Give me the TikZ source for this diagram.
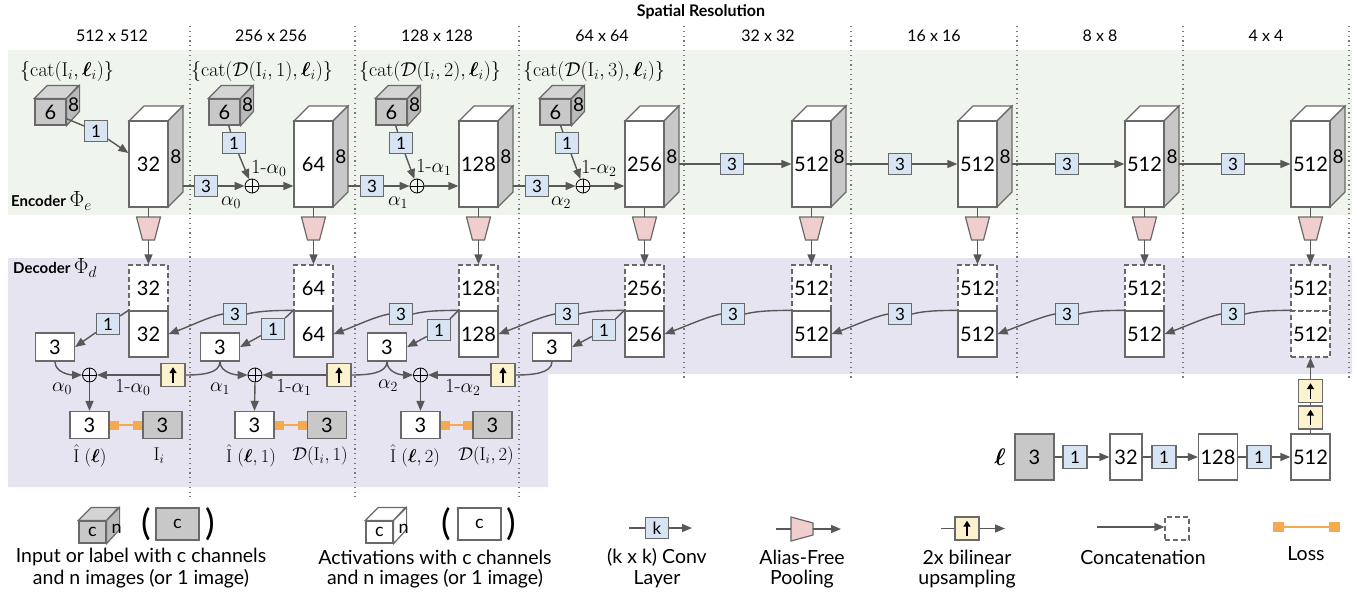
\RequirePackage{fix-cm}
\documentclass[tikz,border=0pt]{standalone}
\usepackage{amsmath,bm}
\usepackage[no-math]{fontspec}
\setmainfont{Lato}
\newfontfamily\lmr{Latin Modern Roman}
\usetikzlibrary{arrows.meta,calc}

\definecolor{greenbg}{RGB}{239,245,236}
\definecolor{purplebg}{RGB}{230,228,240}
\definecolor{convblue}{RGB}{214,228,244}
\definecolor{bordergray}{RGB}{105,105,105}
\definecolor{linegray}{RGB}{88,88,88}
\definecolor{cubegray}{RGB}{200,200,200}
\definecolor{cubetop}{RGB}{212,212,212}
\definecolor{cubeside}{RGB}{186,186,186}
\definecolor{sidegray}{RGB}{200,200,200}
\definecolor{poolpink}{RGB}{240,206,206}
\definecolor{upyellow}{RGB}{253,242,206}
\definecolor{lossorange}{RGB}{245,170,80}
\definecolor{dotgray}{RGB}{120,120,120}

\newcommand\numf{\fontsize{20}{20}\selectfont}
\newcommand\convf{\fontsize{17}{17}\selectfont}
\newcommand\eightfnt{\fontsize{19}{19}\selectfont}
\newcommand\resf{\fontsize{16}{16}\selectfont}
\newcommand\mathf{\fontsize{20}{21}\selectfont}
\newcommand\mathg{\fontsize{18.5}{19}\selectfont}
\newcommand\legf{\fontsize{19.5}{21}\selectfont}

\tikzset{
  bline/.style={draw=bordergray, line width=1.2pt},
  ln/.style={draw=linegray, line width=1.4pt},
  arr/.style={ln, -{Triangle[length=10pt,width=8pt]}},
  dotln/.style={draw=dotgray, line width=1.2pt, dash pattern=on 1.2pt off 3.6pt},
  encfront/.style={bline, fill=white, minimum width=39pt, minimum height=86pt, inner sep=0pt, font=\numf},
  decbox/.style={bline, fill=white, minimum width=39pt, minimum height=46pt, inner sep=0pt, font=\numf},
  decdash/.style={decbox, dash pattern=on 5pt off 3pt},
  graybox/.style={decbox, fill=cubegray},
  outbox/.style={bline, fill=white, minimum width=39pt, minimum height=27pt, inner sep=0pt, font=\numf},
  grayout/.style={outbox, fill=cubegray},
  convbox/.style={bline, fill=convblue, minimum width=23pt, minimum height=21pt, inner sep=0pt, font=\convf},
  cubefront/.style={bline, fill=cubegray, minimum width=31pt, minimum height=26pt, inner sep=0pt, font=\numf},
  eightlbl/.style={inner sep=0pt, font=\eightfnt},
  upbox/.style={bline, fill=upyellow, minimum width=24pt, minimum height=23pt, inner sep=0pt,
    path picture={\draw[black, line width=1.6pt, -{Triangle[length=6pt,width=7pt]}]
      ($(path picture bounding box.south)!0.16!(path picture bounding box.north)$) --
      ($(path picture bounding box.south)!0.84!(path picture bounding box.north)$);}},
  opl/.style={circle, draw=black, line width=0.8pt, minimum size=14pt, inner sep=0pt,
    path picture={\draw[black, line width=0.8pt]
      (path picture bounding box.north) -- (path picture bounding box.south)
      (path picture bounding box.west) -- (path picture bounding box.east);}},
  losssq/.style={fill=lossorange, minimum width=9pt, minimum height=9pt, inner sep=0pt},
  lossln/.style={draw=lossorange, line width=1.4pt},
  lbl/.style={inner sep=0pt, font=\mathf},
  olbl/.style={inner sep=0pt, font=\mathg},
  legtxt/.style={inner sep=0pt, font=\legf, align=center},
  paren/.style={inner sep=0pt, font=\fontsize{36}{36}\selectfont},
}

\begin{document}
\begin{tikzpicture}[x=1pt,y=-1pt]
\useasboundingbox (0,0) rectangle (1357,594);

% backgrounds
\fill[greenbg] (8,50) rectangle (1352,215);
\fill[purplebg] (8,258) -- (1352,258) -- (1352,374) -- (548,374) -- (548,487) -- (8,487) -- cycle;

% dotted separators
\foreach \x in {190,355,519} \draw[dotln] (\x,26) -- (\x,497);
\foreach \x in {684,851,1017,1183,1349} \draw[dotln] (\x,26) -- (\x,380);

% header and resolutions
\node[inner sep=0pt, font=\bfseries\fontsize{16}{16}\selectfont] (hdr) at (701,12) {Spatial Resolution};
\foreach \i/\x/\t in {1/112/512 x 512,2/271/256 x 256,3/437/128 x 128,4/602/64 x 64,5/768/32 x 32,6/934/16 x 16,7/1100/8 x 8,8/1266/4 x 4}
  \node[inner sep=0pt, font=\resf] (res\i) at (\x,36) {\t};

% section labels
\node[anchor=west, inner sep=0pt, font=\bfseries\fontsize{15}{15}\selectfont] (enclbl) at (11,201) {Encoder {\fontsize{22}{22}\selectfont$\Phi_e$}};
\node[anchor=west, inner sep=0pt, font=\bfseries\fontsize{15}{15}\selectfont] (declbl) at (13,268) {Decoder {\fontsize{22}{22}\selectfont$\Phi_d$}};

% input labels
\node[lbl] (m1) at (67,72) {$\{\mathrm{cat}(\mathrm{I}_i,\bm{\ell}_i)\}$};
\node[lbl] (m2) at (262,72) {$\{\mathrm{cat}(\mathcal{D}(\mathrm{I}_i,1),\bm{\ell}_i)\}$};
\node[lbl] (m3) at (430,72) {$\{\mathrm{cat}(\mathcal{D}(\mathrm{I}_i,2),\bm{\ell}_i)\}$};
\node[lbl] (m4) at (594,72) {$\{\mathrm{cat}(\mathcal{D}(\mathrm{I}_i,3),\bm{\ell}_i)\}$};

% encoder blocks + pooling
\foreach \i/\x/\t in {1/129/32,2/294/64,3/459/128,4/625/256,5/792/512,6/958/512,7/1125/512,8/1291/512}{
  \filldraw[bline,fill=white] (\x,121) -- (\x+15,106) -- (\x+54,106) -- (\x+39,121) -- cycle;
  \filldraw[bline,fill=sidegray] (\x+39,121) -- (\x+54,106) -- (\x+54,192) -- (\x+39,207) -- cycle;
  \node[encfront] (e\i) at (\x+19.5,164) {\t};
  \node[eightlbl] (n8\i) at (\x+47,157) {8};
  \coordinate (s\i) at (\x+54,186);
  \coordinate (h\i) at (\x+54,164);
  \filldraw[bline,fill=poolpink] (\x+7.5,217) -- (\x+31.5,217) -- (\x+25.5,240) -- (\x+13.5,240) -- cycle;
  \coordinate (pt\i) at (\x+19.5,217);
  \coordinate (pb\i) at (\x+19.5,240);
  \draw[ln] (e\i.south) -- (pt\i);
}

% input cubes
\foreach \i/\x in {1/50.5,2/224.5,3/391.5,4/555.5}{
  \node[cubefront] (c\i) at (\x,112) {6};
  \filldraw[bline,fill=cubetop] (c\i.north west) -- ++(13,-13) -- ++(31,0) -- (c\i.north east) -- cycle;
  \filldraw[bline,fill=cubeside] (c\i.north east) -- ++(13,-13) -- ++(0,26) -- (c\i.south east) -- cycle;
  \node[eightlbl] (cn\i) at ($(c\i.north east)+(7,6)$) {8};
}

% encoder 1x1 convs from inputs
\node[convbox] (k1) at (96,131) {1};
\draw[ln] (c1) -- (k1);
\draw[arr] (k1) -- ($(e1.west)+(0,-11)$);
\node[convbox] (k2) at (234,143) {1};
\node[convbox] (k3) at (401,143) {1};
\node[convbox] (k4) at (567,143) {1};

% encoder transitions with blending
\foreach \i/\j/\tx/\ox/\kk in {1/2/206/252/2,2/3/372/417/3,3/4/537/583/4}{
  \node[convbox] (t\i) at (\tx,186) {3};
  \node[opl] (o\i) at (\ox,186) {};
  \draw[ln] (s\i) -- (t\i);
  \draw[arr] (t\i) -- (o\i);
  \draw[arr] (o\i) -- (e\j.west |- o\i);
  \draw[ln] (c\kk) -- (k\kk);
  \draw[arr] (k\kk) -- (o\i);
}
\node[lbl] (a0) at (231,203) {$\alpha_0$};
\node[lbl] (a1) at (398,203) {$\alpha_1$};
\node[lbl] (a2) at (561,203) {$\alpha_2$};
\node[lbl] (b0) at (269,168) {{\lmr 1-}$\alpha_0$};
\node[lbl] (b1) at (434,167) {{\lmr 1-}$\alpha_1$};
\node[lbl] (b2) at (599,168) {{\lmr 1-}$\alpha_2$};

% encoder transitions, low resolution
\foreach \i/\j/\tx in {4/5/732,5/6/900,6/7/1067,7/8/1233}{
  \node[convbox] (t\i) at (\tx,164) {3};
  \draw[ln] (h\i) -- (t\i);
  \draw[arr] (t\i) -- (e\j);
}

% decoder blocks
\foreach \i/\x/\t in {1/129/32,2/294/64,3/459/128,4/625/256,5/792/512,6/958/512,7/1125/512}{
  \node[decdash] (dt\i) at (\x+19.5,288) {\t};
  \node[decbox] (db\i) at (\x+19.5,334) {\t};
  \draw[arr] (pb\i) -- (dt\i.north);
}
\node[decdash] (dt8) at (1310.5,288) {512};
\node[decdash] (db8) at (1310.5,334) {512};
\draw[arr] (pb8) -- (dt8.north);

% decoder 3x3 convs between resolutions
\foreach \i/\j/\kx in {2/1/235,3/2/401,4/3/567,5/4/733,6/5/900,7/6/1067,8/7/1233}{
  \node[convbox] (dk\i) at (\kx,314) {3};
  \draw[ln] (db\i.north west) .. controls +(-20,0) and +(12,-3) .. (dk\i.east);
  \draw[arr] (dk\i.west) .. controls +(-15,3) and +(22,-8) .. (db\j.east);
}

% decoder to-RGB convs
\foreach \i/\fx/\fy/\wx in {1/108/324/55,2/273/329/220,3/439/330/387,4/604/330/552}{
  \node[convbox] (df\i) at (\fx,\fy) {1};
  \node[outbox, minimum height=28pt] (w\i) at (\wx,347) {3};
  \draw[ln] (db\i.north west) -- (df\i);
  \draw[arr] (df\i) -- (w\i.east);
}

% upsampling and blending
\foreach \i/\ux/\ox in {1/173/89.5,2/339/255,3/503/420.5}{
  \node[upbox] (u\i) at (\ux,375) {};
  \node[opl] (od\i) at (\ox,375) {};
  \draw[arr] (u\i.west) -- (od\i.east);
}
\foreach \i/\j in {1/1,2/2,3/3}{
  \draw[arr] (w\i.south) .. controls +(0,11) and +(-12,0) .. (od\j.west);
}
\foreach \i/\j in {2/1,3/2,4/3}{
  \draw[ln] (w\i.south) .. controls +(0,12) and +(16,0) .. (u\j.east);
}
\node[lbl] (da0) at (62,389) {$\alpha_0$};
\node[lbl] (db0l) at (133,387) {{\lmr 1-}$\alpha_0$};
\node[lbl] (da1) at (220,389) {$\alpha_1$};
\node[lbl] (db1l) at (294,387) {{\lmr 1-}$\alpha_1$};
\node[lbl] (da2) at (388,386) {$\alpha_2$};
\node[lbl] (db2l) at (463,387) {{\lmr 1-}$\alpha_2$};

% outputs and losses
\foreach \i/\ox/\gx in {1/89.5/162.5,2/254.5/327,3/420.5/492.5}{
  \node[outbox] (out\i) at (\ox,425) {3};
  \node[grayout] (g\i) at (\gx,425) {3};
  \draw[arr] (od\i.south) -- (out\i.north);
  \node[losssq, anchor=west] (la\i) at (out\i.east) {};
  \node[losssq, anchor=east] (lb\i) at (g\i.west) {};
  \draw[lossln] (la\i) -- (lb\i);
}
\node[olbl] (ol1) at (90,456) {$\hat{\mathrm{I}}\;(\bm{\ell})$};
\node[olbl] (gl1) at (159,456) {$\mathrm{I}_i$};
\node[olbl] (ol2) at (251,456) {$\hat{\mathrm{I}}\;(\bm{\ell},1)$};
\node[olbl] (gl2) at (320,456) {$\mathcal{D}(\mathrm{I}_i,1)$};
\node[olbl] (ol3) at (415,456) {$\hat{\mathrm{I}}\;(\bm{\ell},2)$};
\node[olbl] (gl3) at (486,456) {$\mathcal{D}(\mathrm{I}_i,2)$};

% light-code branch
\node[inner sep=0pt, font=\fontsize{24}{24}\selectfont] (ell) at (1000,457) {$\bm{\ell}$};
\node[graybox] (lg) at (1034.5,457) {3};
\node[convbox, minimum width=24pt, minimum height=23pt] (lk1) at (1075,457) {1};
\node[decbox, minimum width=32pt] (lr1) at (1126,457) {32};
\node[convbox, minimum width=24pt, minimum height=23pt] (lk2) at (1164,457) {1};
\node[decbox] (lr2) at (1218,457) {128};
\node[convbox, minimum width=24pt, minimum height=23pt] (lk3) at (1259,457) {1};
\node[decbox] (lr3) at (1310.5,457) {512};
\draw[ln] (lg) -- (lk1); \draw[arr] (lk1) -- (lr1);
\draw[ln] (lr1) -- (lk2); \draw[arr] (lk2) -- (lr2);
\draw[ln] (lr2) -- (lk3); \draw[arr] (lk3) -- (lr3);
\node[upbox] (ua) at (1310.5,417.5) {};
\node[upbox] (ub) at (1310.5,391) {};
\draw[ln] (lr3.north) -- (ua.south);
\draw[ln] (ua.north) -- (ub.south);
\draw[arr] (ub.north) -- (db8.south);

% ---------------- legend ----------------
\node[cubefront, minimum width=27pt, minimum height=22pt, font=\fontsize{18}{18}\selectfont] (lgc) at (92.5,532) {c};
\filldraw[bline,fill=cubetop] (lgc.north west) -- ++(13,-13) -- ++(27,0) -- (lgc.north east) -- cycle;
\filldraw[bline,fill=cubeside] (lgc.north east) -- ++(13,-13) -- ++(0,22) -- (lgc.south east) -- cycle;
\node[inner sep=0pt, font=\fontsize{18}{18}\selectfont] (lgn) at ($(lgc.north east)+(10,8)$) {n};
\node[paren] (lgp1) at (146,524) {(};
\node[graybox, minimum width=43pt, minimum height=32pt, font=\fontsize{18}{18}\selectfont] (lgb) at (177.5,524) {c};
\node[paren] (lgp2) at (210,524) {)};
\node[legtxt] (lgt1) at (141,557) {Input or label with c channels};
\node[legtxt] (lgt2) at (141,579) {and n images (or 1 image)};

\node[cubefront, fill=white, minimum width=27pt, minimum height=22pt, font=\fontsize{18}{18}\selectfont] (lwc) at (379.5,532) {c};
\filldraw[bline,fill=white] (lwc.north west) -- ++(13,-13) -- ++(27,0) -- (lwc.north east) -- cycle;
\filldraw[bline,fill=white] (lwc.north east) -- ++(13,-13) -- ++(0,22) -- (lwc.south east) -- cycle;
\node[inner sep=0pt, font=\fontsize{18}{18}\selectfont] (lwn) at ($(lwc.north east)+(10,8)$) {n};
\node[paren] (lwp1) at (446,524) {(};
\node[decbox, minimum width=43pt, minimum height=32pt, font=\fontsize{18}{18}\selectfont] (lwb) at (479.5,524) {c};
\node[paren] (lwp2) at (511,524) {)};
\node[legtxt] (lwt1) at (435,557) {Activations with c channels};
\node[legtxt] (lwt2) at (435,579) {and n images (or 1 image)};

\coordinate (lka) at (629,528);
\node[convbox] (lkb) at (657,528) {k};
\coordinate (lkc) at (692,528);
\draw[ln] (lka) -- (lkb); \draw[arr] (lkb) -- (lkc);
\node[legtxt] (lkt1) at (657,557) {(k x k) Conv};
\node[legtxt] (lkt2) at (657,579) {Layer};

\filldraw[bline,fill=poolpink] (791,517) -- (813,523) -- (813,535) -- (791,541) -- cycle;
\coordinate (lpa) at (776,529); \coordinate (lpl) at (791,529);
\coordinate (lpr) at (813,529); \coordinate (lpb) at (841,529);
\draw[ln] (lpa) -- (lpl); \draw[arr] (lpr) -- (lpb);
\node[legtxt] (lpt1) at (802,557) {Alias-Free};
\node[legtxt] (lpt2) at (802,579) {Pooling};

\coordinate (lua) at (941,528.5);
\node[upbox] (lub) at (967,528.5) {};
\coordinate (luc) at (1005,528.5);
\draw[ln] (lua) -- (lub); \draw[arr] (lub) -- (luc);
\node[legtxt] (lut1) at (967,557) {2x bilinear};
\node[legtxt] (lut2) at (967,579) {upsampling};

\coordinate (lca) at (1097,527);
\node[decdash, minimum width=24pt, minimum height=23pt] (lcb) at (1177,528.5) {};
\draw[arr] (lca) -- (lcb.west |- lca);
\node[legtxt] (lct) at (1143,557) {Concatenation};

\node[losssq, minimum width=11pt, minimum height=10pt] (lla) at (1278.5,527) {};
\node[losssq, minimum width=11pt, minimum height=10pt] (llb) at (1334.5,527) {};
\draw[lossln] (lla) -- (llb);
\node[legtxt] (llt) at (1306,554) {Loss};

\end{tikzpicture}
\end{document}
